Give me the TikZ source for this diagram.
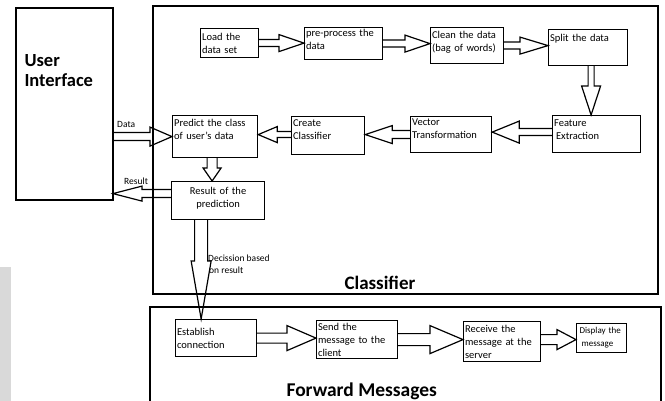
\documentclass[tikz,border=0pt]{standalone}
\usepackage{fontspec}
\setmainfont{Carlito}
\usetikzlibrary{calc, positioning}
% block arrow sizes (half shaft, half head, head length)
\newcommand\bsw{4}
\newcommand\bhw{9}
\newcommand\bhl{25}
\tikzset{
  frame/.style    = {draw, line width=2.4pt},
  box/.style 2 args = {draw, line width=1.2pt, anchor=north west, inner sep=1.5pt,
                     minimum width=#1, minimum height=#2, text width=#1-3pt,
                     align=left, font=\fontsize{10.5}{13}\selectfont},
  title/.style    = {anchor=west, font=\fontsize{18.5}{20}\selectfont\bfseries, align=left},
  lbl/.style      = {anchor=west, inner sep=0pt, font=\fontsize{9.5}{12.5}\selectfont, align=left},
  shaft/.code     = {\def\bsw{#1}},
  headw/.code     = {\def\bhw{#1}},
  headl/.code     = {\def\bhl{#1}},
  blk/.style      = {draw, line width=1.2pt, line join=miter, to path={
      let \p1=(\tikztostart), \p2=(\tikztotarget),
          \n1={veclen(\x2-\x1,\y2-\y1)},
          \n2={(\x2-\x1)/\n1}, \n3={(\y2-\y1)/\n1} in
      ({\x1-\n3*\bsw},{\y1+\n2*\bsw})
      -- ({\x2-\n2*\bhl-\n3*\bsw},{\y2-\n3*\bhl+\n2*\bsw})
      -- ({\x2-\n2*\bhl-\n3*\bhw},{\y2-\n3*\bhl+\n2*\bhw})
      -- (\p2)
      -- ({\x2-\n2*\bhl+\n3*\bhw},{\y2-\n3*\bhl-\n2*\bhw})
      -- ({\x2-\n2*\bhl+\n3*\bsw},{\y2-\n3*\bhl-\n2*\bsw})
      -- ({\x1+\n3*\bsw},{\y1-\n2*\bsw})}},
}

\begin{document}
\begin{tikzpicture}[x=1pt, y=-1pt]
  \useasboundingbox (0,0) rectangle (665,401);
  \fill[black!15] (0,267) rectangle (11,401);

  % the three big frames
  \draw[frame] (16,8) rectangle (113,200);
  \draw[frame] (153,6) rectangle (658,294);
  \draw[frame] (150,307) rectangle (661,412);
  \node[title] (uiT) at (21,71) {User\\Interface};
  \node[title, font=\fontsize{19}{20}\selectfont\bfseries] (clsT) at (341,283) {Classifier};
  \node[title, font=\fontsize{19.5}{20}\selectfont\bfseries] (fwdT) at (283,391) {Forward Messages};
  \coordinate (ui) at (113,104);

  % classifier steps
  \node[box={58pt}{29pt}] (load) at (200,28) {Load the\\data set};
  \node[box={78pt}{32pt}, text depth=21pt] (pre) at (304,27) {pre-process the\\data};
  \node[box={73pt}{36pt}, text depth=21pt] (clean) at (430,27) {Clean the data\\(bag of words)};
  \node[box={79pt}{36pt}, text depth=20pt] (split) at (548,29) {Split the data};
  \node[box={88pt}{37pt}, text depth=22pt] (feat) at (552,115) {Feature\\\hspace{2pt}Extraction};
  \node[box={81pt}{36pt}, text depth=24pt] (vec) at (410,116) {Vector\\Transformation};
  \node[box={73pt}{38pt}, text depth=25pt] (create) at (291,116) {Create\\Classifier};
  \node[box={85pt}{42pt}, text depth=27pt] (pred) at (172,115) {Predict the class\\of user's data};
  \node[box={93pt}{38pt}, text depth=20pt, align=center] (res) at (171,181) {Result of the\\prediction};

  % forwarding steps
  \node[box={81pt}{37pt}] (est) at (175,319) {Establish\\connection};
  \node[box={81pt}{38pt}] (send) at (316,320) {Send the\\message to the\\client};
  \node[box={77pt}{40pt}] (recv) at (463,321) {Receive the\\message at the\\server};
  \node[box={47pt}{29pt}, inner sep=3pt, font=\fontsize{9}{13}\selectfont] (disp) at (576,323) {Display the\\\hspace{2pt}message};

  % block arrows
  \draw[blk, shaft=3.5, headw=8.5] (load.east) to (pre.west |- load.east);
  \draw[blk, shaft=3.5, headw=8.5] (pre.east) to (clean.west |- pre.east);
  \draw[blk, shaft=3.5, headw=8.5, headl=28] (clean.east) to (split.west |- clean.east);
  \draw[blk, shaft=3, headw=9.5, headl=29] ([xshift=3pt]split.south) to ([xshift=3pt]split.south |- feat.north);
  \draw[blk, shaft=3.5, headw=11, headl=27] ([yshift=2pt]feat.west) to ([yshift=2pt]vec.east |- feat.west);
  \draw[blk, shaft=4, headw=9, headl=27] (vec.west) to (create.east |- vec.west);
  \draw[blk, shaft=3, headw=8, headl=19] ([yshift=1pt]create.west) to ([yshift=1pt]pred.east |- create.west);
  \draw[blk, shaft=4, headw=9.5, headl=22] (ui |- pred.west) to (pred.west);
  \draw[blk, shaft=5, headw=9, headl=13] ([xshift=-3pt]pred.south) to ([xshift=-3pt]pred.south |- res.north);
  \draw[blk, shaft=4, headw=7.5, headl=29] ([yshift=7pt]res.west) to ([yshift=7pt]ui |- res.west);
  \coordinate (dec) at ($(res.south west)!0.32!(res.south east)$);
  \draw[blk, shaft=6.5, headw=10, headl=58] (dec) to (dec |- est.north);
  \draw[blk, shaft=5, headw=12.5, headl=29] (est.east) to (send.west |- est.east);
  \draw[blk, shaft=6, headw=14, headl=33] (send.east) to (recv.west |- send.east);
  \draw[blk, shaft=5, headw=10, headl=19] ([yshift=2pt]recv.east) to ([yshift=2pt]disp.west |- recv.east);

  % arrow labels
  \node[lbl] (dataL) at (117,124) {Data};
  \node[lbl] (resL) at (124,181) {Result};
  \node[lbl] (decL) at (208,264) {Decission based\\\hspace{1pt}on result};
\end{tikzpicture}
\end{document}
